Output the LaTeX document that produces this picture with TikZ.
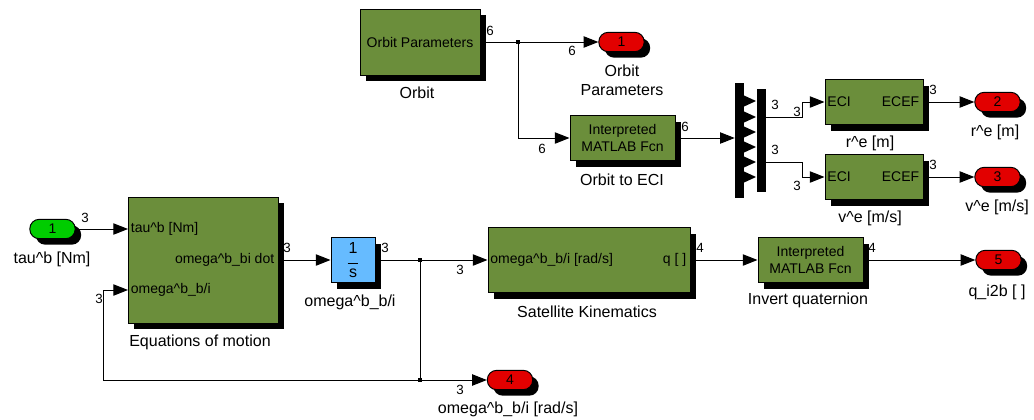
\documentclass[tikz,border=0pt]{standalone}
\usepackage{fontspec}
\setmainfont{Liberation Sans}
\usetikzlibrary{arrows.meta,positioning,shadows}
\definecolor{simgreen}{RGB}{107,142,59}
\definecolor{simred}{RGB}{226,0,0}
\definecolor{simlime}{RGB}{0,204,0}
\definecolor{simblue}{RGB}{102,187,255}
\newcommand{\hc}{\textasciicircum}
\begin{document}
\begin{tikzpicture}[x=0.75pt,y=-0.75pt,
  sshadow/.style={drop shadow={shadow xshift=4.5pt,shadow yshift=-4.5pt,opacity=1,fill=black}},
  blk/.style={draw,line width=0.75pt,fill=#1,sshadow,inner sep=1pt,align=center,font=\fontsize{10.5}{12.5}\selectfont},
  port/.style={draw,line width=0.75pt,fill=#1,sshadow,rounded corners=7pt,minimum width=34pt,minimum height=14.5pt,inner sep=0pt,font=\fontsize{10.5}{12}\selectfont},
  txt/.style={inner sep=0pt,font=\fontsize{10.5}{12}\selectfont},
  lbl/.style={inner sep=0pt,align=center,font=\fontsize{12}{14.25}\selectfont},
  dim/.style={inner sep=0pt,font=\fontsize{10}{12}\selectfont},
  sig/.style={-{Triangle[length=11pt,width=8.5pt]},line width=0.75pt},
  wire/.style={line width=0.75pt},
  dot/.style={fill,inner sep=0pt,minimum size=2.5pt}]
\useasboundingbox[fill=white] (0,0) rectangle (1034,419);
% blocks
\node[blk=simgreen, minimum width=90pt, minimum height=49.5pt] (orbit) at (420,42) {Orbit Parameters};
\node[port=simred] (out1) at (621.5,42) {1};
\node[blk=simgreen, minimum width=78.75pt, minimum height=33.75pt] (eci) at (622.5,138) {Interpreted\\MATLAB Fcn};
\node[fill=black, minimum width=6.75pt, minimum height=86.25pt, inner sep=0pt] (dmxl) at (739.5,140.5) {};
\node[fill=black, minimum width=6.75pt, minimum height=77.25pt, inner sep=0pt] (dmxr) at (761.5,140.5) {};
\node[blk=simgreen, minimum width=73.5pt, minimum height=33.75pt] (ecef1) at (874,102) {};
\node[blk=simgreen, minimum width=73.5pt, minimum height=33.75pt] (ecef2) at (874,177) {};
\node[port=simred] (out2) at (997.5,102) {2};
\node[port=simred] (out3) at (997.5,177) {3};
\node[port=simlime] (in1) at (52.5,229) {1};
\node[blk=simgreen, minimum width=112.5pt, minimum height=94.5pt] (eom) at (203,260) {};
\node[blk=simblue, minimum width=33pt, minimum height=33.75pt, font=\fontsize{12}{13}\selectfont] (int) at (353,260) {1\\[-5pt]\rule{8pt}{0.6pt}\\[-3pt]s};
\node[blk=simgreen, minimum width=151.5pt, minimum height=48.75pt] (satkin) at (589,260) {};
\node[blk=simgreen, minimum width=78.75pt, minimum height=33.75pt] (inv) at (810.5,260) {Interpreted\\MATLAB Fcn};
\node[port=simred] (out4) at (510,380) {4};
\node[port=simred] (out5) at (998.5,260) {5};
% demux teeth
\foreach \ty in {101,117,132,147,162,177}
  \fill (743,\ty-6) -- (756,\ty) -- (743,\ty+6) -- cycle;
% port texts
\node[txt, anchor=west] (ecef1a) at ([xshift=2pt]ecef1.west) {ECI};
\node[txt, anchor=east] (ecef1b) at ([xshift=-3pt]ecef1.east) {ECEF};
\node[txt, anchor=west] (ecef2a) at ([xshift=2pt]ecef2.west) {ECI};
\node[txt, anchor=east] (ecef2b) at ([xshift=-3pt]ecef2.east) {ECEF};
\coordinate (eomin1) at (128,229);
\coordinate (eomin2) at (128,290);
\node[txt, anchor=west] (eoma) at ([xshift=2pt]eomin1) {tau\hc b [Nm]};
\node[txt, anchor=east] (eomb) at ([xshift=-3pt]eom.east) {omega\hc b\_bi dot};
\node[txt, anchor=west] (eomc) at ([xshift=2pt]eomin2) {omega\hc b\_b/i};
\node[txt, anchor=west] (satkina) at ([xshift=2pt]satkin.west) {omega\hc b\_b/i [rad/s]};
\node[txt, anchor=east] (satkinb) at ([xshift=-3pt]satkin.east) {q [ ]};
% captions
\node[lbl] (orbitlbl) at (417,93) {Orbit};
\node[lbl] (out1lbl) at (622,80) {Orbit\\Parameters};
\node[lbl] (ecilbl) at (622,180) {Orbit to ECI};
\node[lbl] (ecef1lbl) at (870,143) {r\hc e [m]};
\node[lbl] (ecef2lbl) at (870,218) {v\hc e [m/s]};
\node[lbl] (out2lbl) at (995,132) {r\hc e [m]};
\node[lbl] (out3lbl) at (997,207) {v\hc e [m/s]};
\node[lbl] (in1lbl) at (52,259) {tau\hc b [Nm]};
\node[lbl] (eomlbl) at (200,342) {Equations of motion};
\node[lbl] (intlbl) at (350,302) {omega\hc b\_b/i};
\node[lbl] (satkinlbl) at (587,312) {Satellite Kinematics};
\node[lbl] (out4lbl) at (508,409) {omega\hc b\_b/i [rad/s]};
\node[lbl] (invlbl) at (808,300) {Invert quaternion};
\node[lbl] (out5lbl) at (997,292) {q\_i2b [ ]};
% signals
\coordinate (br1) at (518,42);
\coordinate (dmxa) at (766,117);
\coordinate (dmxb) at (766,162);
\coordinate (br2) at (420,260);
\coordinate (br3) at (420,380);
\coordinate (fbc) at (103,380);
\draw[sig] (orbit.east) -- (out1.west);
\draw[sig] (br1) |- (eci.west);
\draw[sig] (eci.east) -- (eci.east -| dmxl.west);
\draw[sig] (dmxa) -- ++(36,0) |- (ecef1.west);
\draw[sig] (dmxb) -- ++(36,0) |- (ecef2.west);
\draw[sig] (ecef1.east) -- (out2.west);
\draw[sig] (ecef2.east) -- (out3.west);
\draw[sig] (in1.east) -- (eomin1);
\draw[sig] (eom.east) -- (int.west);
\draw[sig] (int.east) -- (satkin.west);
\draw[wire] (br2) -- (br3);
\draw[sig] (br3) -- (out4.west);
\draw[sig] (br3) -- (fbc) |- (eomin2);
\draw[sig] (satkin.east) -- (inv.west);
\draw[sig] (inv.east) -- (out5.west);
\node[dot] (dot1) at (br1) {};
\node[dot] (dot2) at (br2) {};
\node[dot] (dot3) at (br3) {};
% signal widths
\node[dim] (w1) at (490,31) {6};
\node[dim] (w2) at (572,51) {6};
\node[dim] (w3) at (542,149) {6};
\node[dim] (w4) at (685,127) {6};
\node[dim] (w5) at (775,105) {3};
\node[dim] (w6) at (797,112) {3};
\node[dim] (w7) at (775,150) {3};
\node[dim] (w8) at (797,186) {3};
\node[dim] (w9) at (933,90) {3};
\node[dim] (w10) at (933,165) {3};
\node[dim] (w11) at (85,218) {3};
\node[dim] (w12) at (287,248) {3};
\node[dim] (w13) at (99,299) {3};
\node[dim] (w14) at (385,248) {3};
\node[dim] (w15) at (460,270) {3};
\node[dim] (w16) at (460,390) {3};
\node[dim] (w17) at (700,248) {4};
\node[dim] (w18) at (872,248) {4};
\end{tikzpicture}
\end{document}
